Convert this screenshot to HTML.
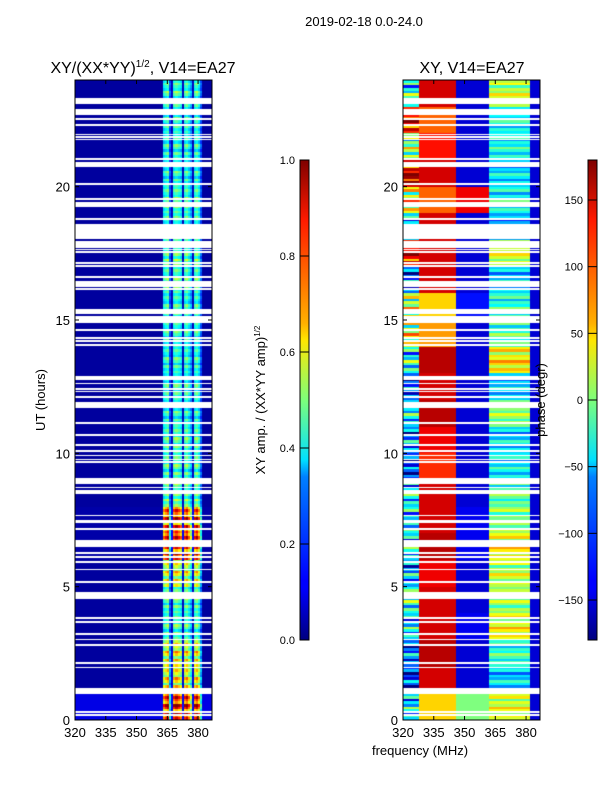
<!DOCTYPE html>
<html><head><meta charset="utf-8"><style>
body{margin:0;background:#fff;width:600px;height:800px;overflow:hidden;font-family:"Liberation Sans","DejaVu Sans",sans-serif}
#root{position:relative;width:600px;height:800px}
canvas{position:absolute}
svg{position:absolute;left:0;top:0}
</style></head><body>
<div id="root">
<canvas id="c1" width="137" height="640" style="left:75px;top:80px"></canvas>
<canvas id="c2" width="137" height="640" style="left:403px;top:80px"></canvas>
<svg id="ov" width="600" height="800">
<defs>
<linearGradient id="jet" x1="0" y1="1" x2="0" y2="0">
<stop offset="0" stop-color="#00007f"/><stop offset="0.11" stop-color="#0000ff"/><stop offset="0.125" stop-color="#0000ff"/>
<stop offset="0.34" stop-color="#0080ff"/><stop offset="0.375" stop-color="#00e0ff"/><stop offset="0.5" stop-color="#7dff7a"/>
<stop offset="0.625" stop-color="#ffe600"/><stop offset="0.66" stop-color="#ffb000"/><stop offset="0.875" stop-color="#ff1a00"/><stop offset="1" stop-color="#7f0000"/>
</linearGradient></defs>
<text x="364" y="26" font-size="13" text-anchor="middle">2019-02-18 0.0-24.0</text>
<text x="143" y="73" font-size="16" text-anchor="middle">XY/(XX*YY)<tspan font-size="10" dy="-6">1/2</tspan><tspan dy="6">, V14=EA27</tspan></text>
<text x="472" y="73" font-size="16" text-anchor="middle">XY, V14=EA27</text>
<text transform="translate(45,400) rotate(-90)" font-size="13" text-anchor="middle">UT (hours)</text>
<text x="420" y="755" font-size="13" text-anchor="middle">frequency (MHz)</text>
<text transform="translate(265,400) rotate(-90)" font-size="13" text-anchor="middle">XY amp. / (XX*YY amp)<tspan font-size="8" dy="-5">1/2</tspan></text>
<text transform="translate(545,400) rotate(-90)" font-size="13" text-anchor="middle">phase (degr)</text>
<rect x="300" y="160" width="9" height="480" fill="url(#jet)" stroke="#000" stroke-width="1"/>
<rect x="588" y="160" width="9" height="480" fill="url(#jet)" stroke="#000" stroke-width="1"/>
<g id="g"></g>
</svg>
</div>
<script>
// ---- data ----
const hours = [0,1,2,3,4,5,6,7,8,9,10,11,12,13,14,15,16,17,18,19,20,21,22,23];
const bandLevel = [0.85,0.62,0.62,0.45,0.45,0.6,0.85,0.8,0.5,0.45,0.45,0.42,0.42,0.42,0.42,0.42,0.45,0.5,0.45,0.45,0.42,0.42,0.42,0.45];
const bgLevel = [0.1,0.03,0.03,0.03,0.03,0.03,0.04,0.04,0.03,0.03,0.03,0.03,0.03,0.03,0.03,0.03,0.03,0.03,0.03,0.03,0.03,0.03,0.03,0.03];
const bandWeights = [0.9,1.0,1.1,0.5,0.15,1.0,1.1,1.0,0.9,0.15,1.0,1.1,0.9,0.7,0.15,1.0,1.1,0.9,0.5];
const rowMod = [1.0,0.85,1.1,0.75,1.0,1.15,0.8,0.9,1.05,0.85];
const phaseA = [-60,-120,-100,-60,-40,-80,-60,-40,-60,-120,-90,-60,-100,-40,30,20,-100,120,-60,40,150,0,120,-40];
const phaseB = [60,150,160,150,150,140,160,150,150,120,140,160,150,160,80,60,150,150,150,100,150,130,100,150];
const phaseC = [0,-150,-150,-140,-150,-150,-140,-140,-150,-150,-150,-150,-150,-150,-150,-130,-150,-150,-150,140,-150,-150,-150,-150];
const phaseD = [30,-60,-30,40,0,20,40,10,-20,-50,-60,0,-60,50,-20,-30,-60,20,-80,-40,-60,-40,-50,20];
const phaseJitter = [0,40,-60,20,80,-30,10,-90,50,0];
const flags = [[23.1,23.3],[22.7,22.9],[22.5,22.55],[22.28,22.33],[21.95,21.98],[21.85,21.88],[21.75,21.78],[21.03,21.08],[20.75,20.9],[20.08,20.12],[19.53,19.57],[19.25,19.4],[18.78,18.82],[18.05,18.6],[17.7,17.95],[17.62,17.66],[17.52,17.56],[17.12,17.16],[17.0,17.04],[16.58,16.62],[16.25,16.45],[16.15,16.19],[15.25,15.4],[14.9,15.15],[14.6,14.64],[14.3,14.34],[14.18,14.22],[14.05,14.09],[12.75,12.9],[12.6,12.64],[12.4,12.44],[12.3,12.34],[12.1,12.14],[11.7,11.9],[11.12,11.16],[10.66,10.7],[10.3,10.34],[10.05,10.1],[9.9,9.94],[9.75,9.79],[9.65,9.69],[8.85,9.05],[8.7,8.74],[8.5,8.6],[7.65,7.69],[7.4,7.5],[7.15,7.19],[6.5,6.75],[6.25,6.29],[6.1,6.14],[5.92,5.96],[5.62,5.66],[5.17,5.21],[4.55,4.8],[3.8,3.84],[3.65,3.69],[3.2,3.24],[3.0,3.04],[2.8,2.84],[2.12,2.16],[1.95,1.99],[1.0,1.2],[0.28,0.32],[0.17,0.21]];
const xTicks = [320,335,350,365,380];
const yTicks = [0,5,10,15,20];
const ampTicks = [0.0,0.2,0.4,0.6,0.8,1.0];
const phaseTicks = [-150,-100,-50,0,50,100,150];

// ---- scales ----
const F0=320,F1=386.8,H0=0,H1=24,W=137,HT=640;
const xs = f => (f-F0)/(F1-F0)*W;
const ys = h => HT-(h-H0)/(H1-H0)*HT;
const xinv = px => F0+px/W*(F1-F0);
const yinv = py => H0+(HT-py)/HT*(H1-H0);
function jetRGB(v){v=Math.max(0,Math.min(1,v));
  const r=Math.max(0,Math.min(1,1.5-Math.abs(4*v-3))),g=Math.max(0,Math.min(1,1.5-Math.abs(4*v-2))),b=Math.max(0,Math.min(1,1.5-Math.abs(4*v-1)));
  return [r*255|0,g*255|0,b*255|0];}
const flagged = (a,b) => flags.some(f=>a<f[1]&&b>f[0]);

const ctx1=document.getElementById('c1').getContext('2d');
const ctx2=document.getElementById('c2').getContext('2d');
const im1=ctx1.createImageData(W,HT), im2=ctx2.createImageData(W,HT);
for(let py=0;py<HT;py++){
  const hTop=yinv(py), hBot=yinv(py+1), h=(hTop+hBot)/2;
  const fl=flagged(hBot+0.005,hTop-0.005)||flags.some(f=>h>=f[0]&&h<f[1]);
  const hi=Math.min(23,Math.max(0,Math.floor(h))); const ri=Math.floor(h/0.1)%rowMod.length;
  for(let px=0;px<W;px++){
    const o=(py*W+px)*4;
    if(fl){for(let k=0;k<4;k++){im1.data[o+k]=255;im2.data[o+k]=255;}continue;}
    const f=xinv(px+0.5);
    let v=bgLevel[hi];
    const bi=Math.floor(f-363);
    if(bi>=0&&bi<bandWeights.length) v=bandLevel[hi]*bandWeights[bi]*rowMod[ri];
    let c=jetRGB(v); im1.data[o]=c[0];im1.data[o+1]=c[1];im1.data[o+2]=c[2];im1.data[o+3]=255;
    let p;
    if(f<328) p=phaseA[hi]+phaseJitter[ri]; else if(f<346) p=phaseB[hi]; else if(f<362) p=phaseC[hi]; else if(f<382) p=phaseD[hi]+0.5*phaseJitter[ri]; else p=-150;
    c=jetRGB((p+180)/360); im2.data[o]=c[0];im2.data[o+1]=c[1];im2.data[o+2]=c[2];im2.data[o+3]=255;
  }
}
ctx1.putImageData(im1,0,0); ctx2.putImageData(im2,0,0);
// ---- axes ----
const g=document.getElementById('g');
const NS='http://www.w3.org/2000/svg';
function mk(tag,attrs,txt){const e=document.createElementNS(NS,tag);for(const k in attrs)e.setAttribute(k,attrs[k]);if(txt!==undefined)e.textContent=txt;g.appendChild(e);return e;}
[75,403].forEach((ox,pi)=>{
  const fr=mk('rect',{x:ox,y:80,width:W,height:HT,fill:'none',stroke:'#000','stroke-width':1});
  
  
  xTicks.forEach(t=>{const x=ox+xs(t);
    mk('line',{x1:x,y1:720,x2:x,y2:716,stroke:'#000'});mk('line',{x1:x,y1:80,x2:x,y2:84,stroke:'#000'});
    const l=mk('text',{x:x,y:737,'font-size':13,'text-anchor':'middle'},String(t));
    
    
  });
  yTicks.forEach(t=>{const y=80+ys(t);
    mk('line',{x1:ox,y1:y,x2:ox+4,y2:y,stroke:'#000'});mk('line',{x1:ox+W,y1:y,x2:ox+W-4,y2:y,stroke:'#000'});
    const l=mk('text',{x:ox-5,y:y+5,'font-size':13,'text-anchor':'end'},String(t));
    
    
  });
});
ampTicks.forEach(t=>{const y=640-t*480;
  mk('line',{x1:300,y1:y,x2:309,y2:y,stroke:'#000'});
  const l=mk('text',{x:295,y:y+4,'font-size':11,'text-anchor':'end'},t.toFixed(1));
  
  
});
phaseTicks.forEach(t=>{const y=640-(t+180)/360*480;
  mk('line',{x1:588,y1:y,x2:597,y2:y,stroke:'#000'});
  const l=mk('text',{x:583,y:y+4,'font-size':11,'text-anchor':'end'},t<0?'\u2212'+(-t):String(t));
  
  
});
</script>
</body></html>
